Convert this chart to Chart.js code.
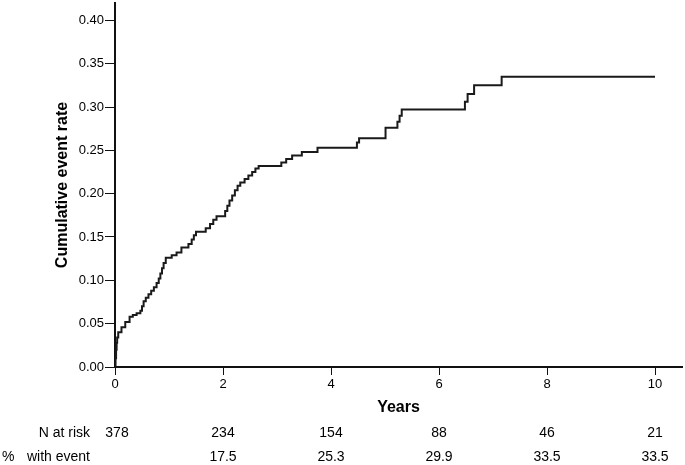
<!DOCTYPE html>
<html>
<head>
<meta charset="utf-8">
<script src="https://cdn.jsdelivr.net/npm/chart.js@4"></script>
<style>
  html, body { margin: 0; padding: 0; background: #fff; }
  #wrap { width: 685px; height: 465px; position: relative; }
</style>
</head>
<body>
<div id="wrap"><canvas id="c" width="685" height="465"></canvas></div>
<script>
// Kaplan-Meier style step curve: time (years) and cumulative event rate after each step
const times = [0, 0.01, 0.02, 0.03, 0.04, 0.06, 0.12, 0.19, 0.27, 0.33, 0.40, 0.47, 0.50, 0.53, 0.57, 0.62, 0.67, 0.72, 0.77, 0.81, 0.84, 0.87, 0.90, 0.94, 1.05, 1.14, 1.23, 1.36, 1.42, 1.46, 1.50, 1.68, 1.76, 1.82, 1.88, 2.04, 2.08, 2.12, 2.17, 2.22, 2.27, 2.32, 2.40, 2.47, 2.54, 2.60, 2.66, 3.08, 3.17, 3.28, 3.46, 3.75, 4.48, 4.52, 5.01, 5.23, 5.27, 5.31, 6.48, 6.53, 6.65, 7.16, 10.0];
const rates = [0, 0.010, 0.020, 0.028, 0.034, 0.040, 0.046, 0.052, 0.058, 0.060, 0.062, 0.065, 0.070, 0.076, 0.080, 0.084, 0.088, 0.092, 0.097, 0.102, 0.108, 0.114, 0.120, 0.126, 0.129, 0.132, 0.138, 0.142, 0.147, 0.152, 0.156, 0.160, 0.165, 0.170, 0.174, 0.180, 0.186, 0.192, 0.198, 0.204, 0.209, 0.213, 0.217, 0.221, 0.225, 0.229, 0.232, 0.236, 0.240, 0.244, 0.248, 0.253, 0.259, 0.264, 0.276, 0.283, 0.290, 0.297, 0.306, 0.315, 0.325, 0.335, 0.335];

// Risk table
const tableYears = [0, 2, 4, 6, 8, 10];
const nAtRisk = ["378", "234", "154", "88", "46", "21"];
const pctWithEvent = ["", "17.5", "25.3", "29.9", "33.5", "33.5"];

const xTitle = "Years";
const yTitle = "Cumulative event rate";

const points = times.map((t, i) => ({ x: t, y: rates[i] }));

const FONT = "'Liberation Sans', Arial, sans-serif";

const riskTable = {
  id: 'riskTable',
  afterDraw(chart) {
    const ctx = chart.ctx;
    const xs = chart.scales.x;
    ctx.save();
    ctx.fillStyle = '#000';
    ctx.font = "14px " + FONT;
    ctx.textBaseline = 'middle';
    const yRow1 = 433, yRow2 = 457;
    ctx.textAlign = 'right';
    ctx.fillText('N at risk', 90, yRow1);
    ctx.fillText('with event', 90, yRow2);
    ctx.textAlign = 'left';
    ctx.fillText('%', 2, yRow2);
    ctx.textAlign = 'center';
    tableYears.forEach((yr, i) => {
      const px = xs.getPixelForValue(yr) + (i === 0 ? 2 : 0);
      ctx.fillText(nAtRisk[i], px, yRow1);
      if (pctWithEvent[i]) ctx.fillText(pctWithEvent[i], px, yRow2);
    });
    ctx.restore();
  }
};

new Chart(document.getElementById('c'), {
  type: 'line',
  data: {
    datasets: [{
      data: points,
      stepped: 'before',
      borderColor: '#1a1a1a',
      borderWidth: 2,
      pointRadius: 0,
      fill: false,
      tension: 0
    }]
  },
  options: {
    responsive: false,
    animation: false,
    devicePixelRatio: 1,
    layout: { padding: { left: 0, top: 3, right: 3, bottom: 48 } },
    plugins: { legend: { display: false }, tooltip: { enabled: false } },
    scales: {
      x: {
        type: 'linear',
        min: 0, max: 10.5,
        afterFit(s) { s.height = 50; },
        border: { display: true, color: '#111', width: 2 },
        grid: { display: true, drawOnChartArea: false, drawTicks: true, tickLength: 8, tickColor: '#111', tickWidth: 1 },
        ticks: { stepSize: 2, includeBounds: false, padding: 2, color: '#000', font: { family: FONT, size: 13 }, maxRotation: 0,
                 callback: v => String(v) },
        title: { display: true, text: xTitle, color: '#000', font: { family: FONT, size: 16, weight: 'bold' }, padding: { top: 0, bottom: 0 } }
      },
      y: {
        min: 0, max: 0.42,
        afterFit(s) { s.width = 115; s.paddingTop = 0; },
        border: { display: true, color: '#111', width: 2 },
        grid: { display: true, drawOnChartArea: false, drawTicks: true, tickLength: 10, tickColor: '#111', tickWidth: 1 },
        ticks: { stepSize: 0.05, includeBounds: false, padding: 1, color: '#000', font: { family: FONT, size: 13 },
                 callback: v => Number(v).toFixed(2) },
        title: { display: true, text: yTitle, color: '#000', font: { family: FONT, size: 16, weight: 'bold' }, padding: { top: 53, bottom: 0 } }
      }
    }
  },
  plugins: [riskTable]
});
</script>
</body>
</html>
